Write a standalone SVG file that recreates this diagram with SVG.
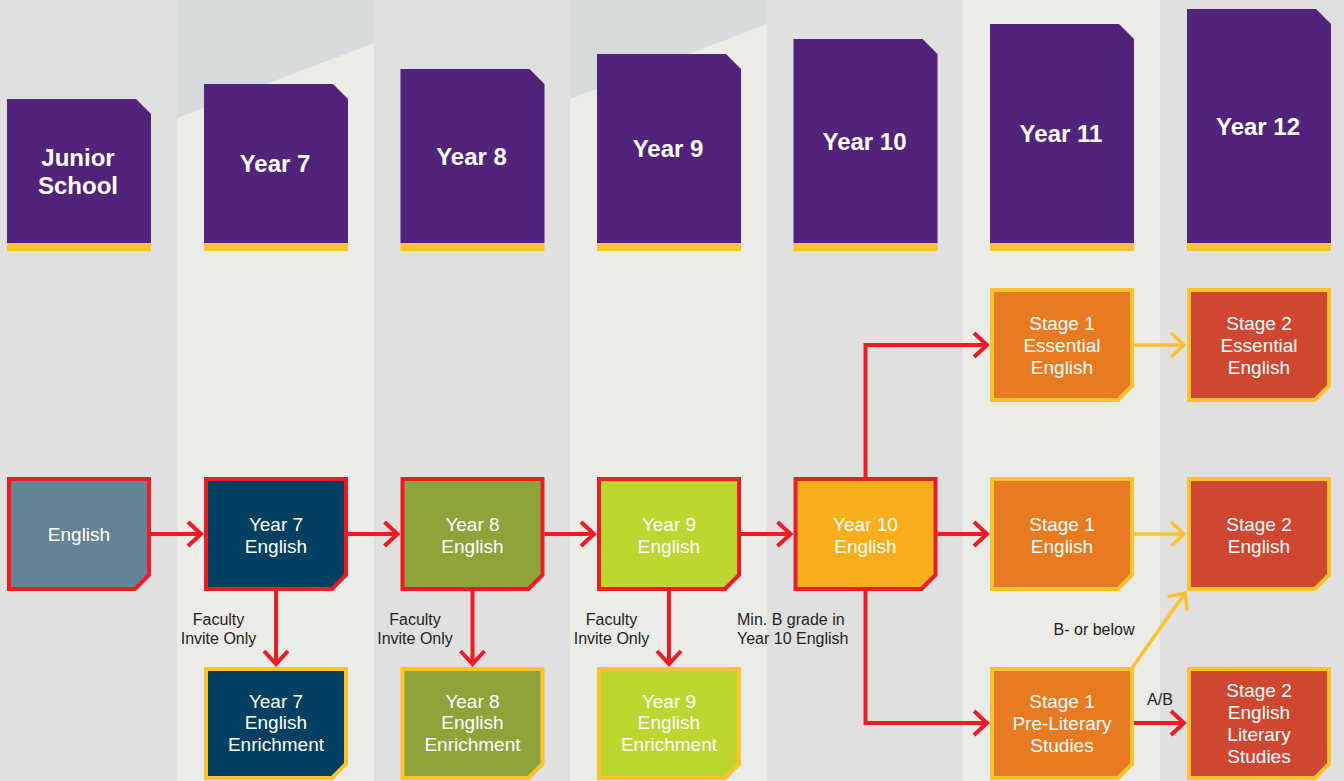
<svg xmlns="http://www.w3.org/2000/svg" width="1344" height="781" viewBox="0 0 1344 781">
<style>
.hd{fill:#51237a}
.hy{fill:#fdc22e}
.ht{font-family:"Liberation Sans",Arial,sans-serif;font-weight:bold;font-size:24px;fill:#ffffff;text-anchor:middle}
.nt{font-family:"Liberation Sans",Arial,sans-serif;font-size:19px;fill:#ffffff;text-anchor:middle}
.lb{font-family:"Liberation Sans",Arial,sans-serif;font-size:16px;fill:#231f20}
.rb{stroke:#ed1c24;stroke-width:4}
.yb{stroke:#fdc22e;stroke-width:4}
.cr{fill:none;stroke:#ed1c24;stroke-width:4}
.cy{fill:none;stroke:#fdc22e;stroke-width:3.5}
</style>
<defs>
<marker id="ar" markerUnits="userSpaceOnUse" markerWidth="30" markerHeight="30" refX="0" refY="0" orient="auto" overflow="visible">
<path d="M-13,-12 L0,0 L-13,12" fill="none" stroke="#ed1c24" stroke-width="4"/>
</marker>
<marker id="ay" markerUnits="userSpaceOnUse" markerWidth="30" markerHeight="30" refX="0" refY="0" orient="auto" overflow="visible">
<path d="M-13,-12 L0,0 L-13,12" fill="none" stroke="#fdc22e" stroke-width="3.5"/>
</marker>
</defs>
<g id="background">
<rect x="0" y="0" width="1344" height="781" fill="#dfe0df"/>
<rect x="177" y="0" width="197" height="781" fill="#ebebe8"/>
<rect x="570" y="0" width="197" height="781" fill="#ebebe8"/>
<rect x="963" y="0" width="197" height="781" fill="#ebebe8"/>
<polygon points="177,0 374,0 374,43 177,118" fill="#d8dbdc"/>
<polygon points="570,0 767,0 767,24 570,99" fill="#d8dbdc"/>
</g>
<g id="h-junior">
<path class="hd" d="M7,99 H136 L151,114 V243 H7 Z"/>
<rect class="hy" x="7" y="243" width="144" height="8"/>
<text class="ht" x="78" y="165.5">Junior</text>
<text class="ht" x="78" y="194">School</text>
</g>
<g id="h-y7">
<path class="hd" d="M204,84 H333 L348,99 V243 H204 Z"/>
<rect class="hy" x="204" y="243" width="144" height="8"/>
<text class="ht" x="275" y="172">Year 7</text>
</g>
<g id="h-y8">
<path class="hd" d="M400.5,69 H529.5 L544.5,84 V243 H400.5 Z"/>
<rect class="hy" x="400.5" y="243" width="144" height="8"/>
<text class="ht" x="471.5" y="164.5">Year 8</text>
</g>
<g id="h-y9">
<path class="hd" d="M597,54 H726 L741,69 V243 H597 Z"/>
<rect class="hy" x="597" y="243" width="144" height="8"/>
<text class="ht" x="668" y="157">Year 9</text>
</g>
<g id="h-y10">
<path class="hd" d="M793.5,39 H922.5 L937.5,54 V243 H793.5 Z"/>
<rect class="hy" x="793.5" y="243" width="144" height="8"/>
<text class="ht" x="864.5" y="149.5">Year 10</text>
</g>
<g id="h-y11">
<path class="hd" d="M990,24 H1119 L1134,39 V243 H990 Z"/>
<rect class="hy" x="990" y="243" width="144" height="8"/>
<text class="ht" x="1061" y="142">Year 11</text>
</g>
<g id="h-y12">
<path class="hd" d="M1187,9 H1316 L1331,24 V243 H1187 Z"/>
<rect class="hy" x="1187" y="243" width="144" height="8"/>
<text class="ht" x="1258" y="134.5">Year 12</text>
</g>
<g id="connectors">
<path class="cr" d="M151,534 H201" marker-end="url(#ar)"/>
<path class="cr" d="M348,534 H397.5" marker-end="url(#ar)"/>
<path class="cr" d="M544.5,534 H594" marker-end="url(#ar)"/>
<path class="cr" d="M741,534 H790.5" marker-end="url(#ar)"/>
<path class="cr" d="M937.5,534 H987" marker-end="url(#ar)"/>
<path class="cr" d="M276,591 V664" marker-end="url(#ar)"/>
<path class="cr" d="M472.5,591 V664" marker-end="url(#ar)"/>
<path class="cr" d="M669,591 V664" marker-end="url(#ar)"/>
<path class="cr" d="M865.5,477 V345 H987" marker-end="url(#ar)"/>
<path class="cr" d="M865.5,591 V723 H987" marker-end="url(#ar)"/>
<path class="cr" d="M1134,723 H1184" marker-end="url(#ar)"/>
<path class="cy" d="M1134,345 H1184" marker-end="url(#ay)"/>
<path class="cy" d="M1134,534 H1184" marker-end="url(#ay)"/>
<path class="cy" d="M1132,668 L1185,593" marker-end="url(#ay)"/>
</g>
<g id="labels">
<text class="lb" x="218.5" y="625" text-anchor="middle">Faculty</text>
<text class="lb" x="218.5" y="643.5" text-anchor="middle">Invite Only</text>
<text class="lb" x="415" y="625" text-anchor="middle">Faculty</text>
<text class="lb" x="415" y="643.5" text-anchor="middle">Invite Only</text>
<text class="lb" x="611.5" y="625" text-anchor="middle">Faculty</text>
<text class="lb" x="611.5" y="643.5" text-anchor="middle">Invite Only</text>
<text class="lb" x="737" y="625">Min. B grade in</text>
<text class="lb" x="737" y="643.5">Year 10 English</text>
<text class="lb" x="1094" y="635" text-anchor="middle">B- or below</text>
<text class="lb" x="1160" y="705" text-anchor="middle">A/B</text>
</g>
<g id="n-english">
<path class="rb" fill="#658496" d="M9,479 H149 V575 L135,589 H9 Z"/>
<text class="nt" x="79" y="540.5">English</text>
</g>
<g id="n-y7">
<path class="rb" fill="#023f60" d="M206,479 H346 V575 L332,589 H206 Z"/>
<text class="nt" x="276" y="531">Year 7</text>
<text class="nt" x="276" y="553">English</text>
</g>
<g id="n-y7e">
<path class="yb" fill="#023f60" d="M206,669 H346 V764 L332,778 H206 Z"/>
<text class="nt" x="276" y="707.5">Year 7</text>
<text class="nt" x="276" y="729">English</text>
<text class="nt" x="276" y="751">Enrichment</text>
</g>
<g id="n-y8">
<path class="rb" fill="#8ea43b" d="M402.5,479 H542.5 V575 L528.5,589 H402.5 Z"/>
<text class="nt" x="472.5" y="531">Year 8</text>
<text class="nt" x="472.5" y="553">English</text>
</g>
<g id="n-y8e">
<path class="yb" fill="#8ea43b" d="M402.5,669 H542.5 V764 L528.5,778 H402.5 Z"/>
<text class="nt" x="472.5" y="707.5">Year 8</text>
<text class="nt" x="472.5" y="729">English</text>
<text class="nt" x="472.5" y="751">Enrichment</text>
</g>
<g id="n-y9">
<path class="rb" fill="#bed630" d="M599,479 H739 V575 L725,589 H599 Z"/>
<text class="nt" x="669" y="531">Year 9</text>
<text class="nt" x="669" y="553">English</text>
</g>
<g id="n-y9e">
<path class="yb" fill="#bed630" d="M599,669 H739 V764 L725,778 H599 Z"/>
<text class="nt" x="669" y="707.5">Year 9</text>
<text class="nt" x="669" y="729">English</text>
<text class="nt" x="669" y="751">Enrichment</text>
</g>
<g id="n-y10">
<path class="rb" fill="#f9ae1b" d="M795.5,479 H935.5 V575 L921.5,589 H795.5 Z"/>
<text class="nt" x="865.5" y="531">Year 10</text>
<text class="nt" x="865.5" y="553">English</text>
</g>
<g id="n-s1ess">
<path class="yb" fill="#e87a22" d="M992,290 H1132 V386 L1118,400 H992 Z"/>
<text class="nt" x="1062" y="330">Stage 1</text>
<text class="nt" x="1062" y="352">Essential</text>
<text class="nt" x="1062" y="374">English</text>
</g>
<g id="n-s2ess">
<path class="yb" fill="#d04731" d="M1189,290 H1329 V386 L1315,400 H1189 Z"/>
<text class="nt" x="1259" y="330">Stage 2</text>
<text class="nt" x="1259" y="352">Essential</text>
<text class="nt" x="1259" y="374">English</text>
</g>
<g id="n-s1eng">
<path class="yb" fill="#e87a22" d="M992,479 H1132 V575 L1118,589 H992 Z"/>
<text class="nt" x="1062" y="531">Stage 1</text>
<text class="nt" x="1062" y="553">English</text>
</g>
<g id="n-s2eng">
<path class="yb" fill="#d04731" d="M1189,479 H1329 V575 L1315,589 H1189 Z"/>
<text class="nt" x="1259" y="531">Stage 2</text>
<text class="nt" x="1259" y="553">English</text>
</g>
<g id="n-s1pre">
<path class="yb" fill="#e87a22" d="M992,669 H1132 V764 L1118,778 H992 Z"/>
<text class="nt" x="1062" y="708">Stage 1</text>
<text class="nt" x="1062" y="730">Pre-Literary</text>
<text class="nt" x="1062" y="752">Studies</text>
</g>
<g id="n-s2lit">
<path class="yb" fill="#d04731" d="M1189,669 H1329 V764 L1315,778 H1189 Z"/>
<text class="nt" x="1259" y="696.5">Stage 2</text>
<text class="nt" x="1259" y="719">English</text>
<text class="nt" x="1259" y="741">Literary</text>
<text class="nt" x="1259" y="763">Studies</text>
</g>
</svg>
